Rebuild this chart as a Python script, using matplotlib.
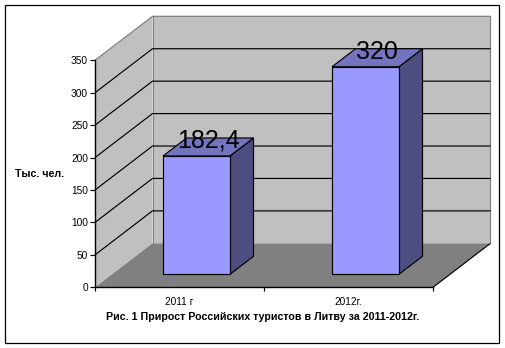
import matplotlib
matplotlib.use("Agg")
import matplotlib.pyplot as plt
from matplotlib.patches import Polygon, Rectangle

plt.rcParams['font.family'] = ['Liberation Sans', 'DejaVu Sans']

categories = ['2011 г', '2012г.']
values = [182.4, 320]
value_labels = ['182,4', '320']
y_ticks = [0, 50, 100, 150, 200, 250, 300, 350]
title = 'Рис. 1 Прирост Российских туристов в Литву за 2011-2012г.'
y_title = 'Тыс. чел.'

# depth of the fake 3d box, in data units (x = categories, y = thousands)
DX = 57.5 / 169
DY = 44 / 0.6486
BAR_W = 0.396
D0, D1 = 0.295, 0.705
LW = 0.85  # a bit over one pixel at dpi 100


def pr(x, y, d=0.0):
    # oblique projection: depth d goes up and to the right
    return (x + d * DX, y + d * DY)


def poly(ax, pts, fc, ec='none', z=1):
    ax.add_patch(Polygon(pts, closed=True, facecolor=fc, edgecolor=ec, linewidth=LW,
                         antialiased=True, clip_on=False, zorder=z))


def line(ax, pts, c='black', z=2):
    xs, ys = zip(*pts)
    ax.plot(xs, ys, color=c, lw=LW, clip_on=False, zorder=z, solid_capstyle='butt')


fig = plt.figure(figsize=(5.05, 3.48), dpi=100)
fig.add_artist(Rectangle((4.5 / 505, 1 - 342.5 / 348), 494.5 / 505, 338 / 348,
                         transform=fig.transFigure, fill=False, edgecolor='black', linewidth=0.9))

ax = fig.add_axes([95 / 505, 1 - 287.3 / 348, 338 / 505, 227 / 348])
ax.patch.set_alpha(0)
n = len(categories)
top = y_ticks[-1]
ax.set_xlim(0, n)
ax.set_ylim(0, top)

# walls and floor
poly(ax, [pr(0, 0), pr(0, top), pr(0, top, 1), pr(0, 0, 1)], '#C0C0C0')
poly(ax, [pr(0, 0, 1), pr(0, top, 1), pr(n, top, 1), pr(n, 0, 1)], '#C0C0C0')
poly(ax, [pr(0, 0), pr(n, 0), pr(n, 0, 1), pr(0, 0, 1)], '#808080')
line(ax, [pr(0, top), pr(0, top, 1), pr(n, top, 1), pr(n, 0, 1)], '#808080')
line(ax, [pr(0, 0, 1), pr(0, top, 1)], '#808080')
line(ax, [pr(n, 0), pr(n, 0, 1)])

for v in y_ticks[1:-1]:
    line(ax, [pr(0, v), pr(0, v, 1), pr(n, v, 1)])

# bars
for i, v in enumerate(values):
    x0 = i + 0.5 - BAR_W / 2
    x1 = i + 0.5 + BAR_W / 2
    poly(ax, [pr(x1, 0, D0), pr(x1, v, D0), pr(x1, v, D1), pr(x1, 0, D1)], '#4D4D80', 'black', 3)
    poly(ax, [pr(x0, v, D0), pr(x1, v, D0), pr(x1, v, D1), pr(x0, v, D1)], '#7373BF', 'black', 3)
    poly(ax, [pr(x0, 0, D0), pr(x1, 0, D0), pr(x1, v, D0), pr(x0, v, D0)], '#9999FF', 'black', 4)
    ax.annotate(value_labels[i], xy=pr(i + 0.5, v, 0.5), xytext=(0, 4.5), textcoords='offset points',
                ha='center', va='center', fontsize=18, color='black', zorder=5,
                annotation_clip=False)

for side in ('top', 'right'):
    ax.spines[side].set_visible(False)
for side in ('left', 'bottom'):
    ax.spines[side].set_linewidth(1)
    ax.spines[side].set_zorder(6)

ax.set_yticks(y_ticks)
ax.tick_params(axis='y', direction='out', length=3.5, width=LW, pad=1.5, labelsize=7.3)
ax.set_xticks(range(n + 1))
ax.set_xticks([i + 0.5 for i in range(n)], categories, minor=True)
ax.tick_params(axis='x', which='major', direction='out', length=3, width=LW, labelbottom=False)
ax.tick_params(axis='x', which='minor', length=0, pad=7, labelsize=7.3)

fig.text(40 / 505, 1 - 174 / 348, y_title, ha='center', va='center', fontsize=7.7, fontweight='bold')
fig.text(262.5 / 505, 1 - 317 / 348, title, ha='center', va='center', fontsize=7.7, fontweight='bold')

fig.savefig('out.png', dpi=100)
